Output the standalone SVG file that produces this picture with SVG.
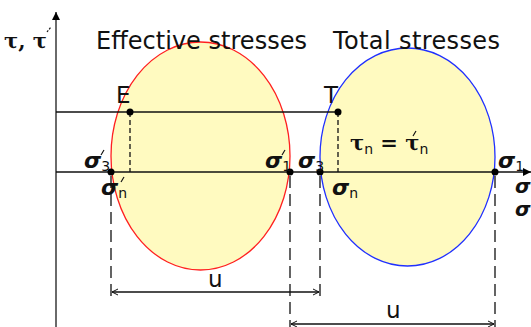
<svg xmlns="http://www.w3.org/2000/svg" width="531" height="327" viewBox="0 0 531 327">
<style>
.ttl{font-family:"DejaVu Sans",sans-serif;font-size:24px;fill:#111}
.lbl{font-family:"DejaVu Sans",sans-serif;font-size:23px;fill:#111}
.sg{font-family:"DejaVu Sans",sans-serif;font-size:22px;font-weight:bold;font-style:italic;fill:#111}
.sg2{font-family:"DejaVu Sans",sans-serif;font-size:20px;font-weight:bold;font-style:italic;fill:#111}
.sub{font-family:"DejaVu Sans",sans-serif;font-size:14px;font-weight:normal;font-style:normal;fill:#111}
.tau{font-family:"DejaVu Serif",serif;font-size:21px;font-weight:bold;fill:#111}
.ln{stroke:#111;stroke-width:1.3;fill:none}
.dash{stroke:#111;stroke-width:1.3;fill:none;stroke-dasharray:12 6}
.dsh2{stroke:#111;stroke-width:1.3;fill:none;stroke-dasharray:5 3}
.pr{stroke:#111;stroke-width:1.2}
.pt{fill:#000}
</style>
<defs>
<marker id="ah" markerWidth="8" markerHeight="8" refX="7" refY="4" orient="auto-start-reverse" markerUnits="userSpaceOnUse">
<polyline points="1,1 7,4 1,7" fill="none" stroke="#111" stroke-width="1"/>
</marker>
<marker id="ax" markerWidth="10" markerHeight="10" refX="8" refY="5" orient="auto" markerUnits="userSpaceOnUse">
<path d="M0,1 L8,5 L0,9 Z" fill="#000"/>
</marker>
</defs>

<g id="circle-effective">
<ellipse cx="200.5" cy="156" rx="89.5" ry="114" fill="#fffac0" stroke="#ff2020" stroke-width="1.3"/>
</g>
<g id="circle-total">
<ellipse cx="407.5" cy="157" rx="87.5" ry="109" fill="#fffac0" stroke="#2030ff" stroke-width="1.3"/>
</g>

<g id="connectors">
<line x1="56" y1="327" x2="56" y2="12" stroke="#6a6a6a" stroke-width="2" marker-end="url(#ax)"/>
<line x1="56" y1="172" x2="531" y2="172" class="ln" marker-end="url(#ax)"/>
<line x1="56" y1="112" x2="338" y2="112" class="ln"/>
<line x1="130" y1="112" x2="130" y2="172" class="dsh2"/>
<line x1="338" y1="112" x2="338" y2="172" class="dsh2"/>
<line x1="111" y1="176" x2="111" y2="297" class="dash"/>
<line x1="290" y1="176" x2="290" y2="327" class="dash"/>
<line x1="320" y1="176" x2="320" y2="297" class="dash"/>
<line x1="495" y1="176" x2="495" y2="327" class="dash"/>
<line x1="112" y1="292" x2="319" y2="292" class="ln" marker-start="url(#ah)" marker-end="url(#ah)"/>
<line x1="291" y1="324" x2="494" y2="324" class="ln" marker-start="url(#ah)" marker-end="url(#ah)"/>
</g>

<g id="points">
<circle cx="130" cy="112" r="3.5" class="pt"/>
<circle cx="338" cy="112" r="3.5" class="pt"/>
<circle cx="111" cy="172" r="3.5" class="pt"/>
<circle cx="290" cy="172" r="3.5" class="pt"/>
<circle cx="320" cy="172" r="3.5" class="pt"/>
<circle cx="495" cy="172" r="3.5" class="pt"/>
</g>

<g id="axis-label">
<text x="4" y="48" class="tau">τ, τ</text>
<line x1="47" y1="32" x2="51" y2="27" stroke="#111" stroke-width="1.2" stroke-dasharray="2 1.5"/>
</g>

<g id="titles">
<text x="96" y="49" class="ttl" textLength="211" lengthAdjust="spacing">Effective stresses</text>
<text x="333" y="49" class="ttl" textLength="167" lengthAdjust="spacing">Total stresses</text>
</g>

<g id="E"><text x="116" y="103" class="lbl">E</text></g>
<g id="T"><text x="324" y="103" class="lbl">T</text></g>

<g id="sigma3p"><text x="84" y="168" class="sg">σ<tspan class="sub" dy="3">3</tspan></text><line x1="101" y1="155" x2="104" y2="150" class="pr"/></g>
<g id="sigmanp"><text x="101" y="195" class="sg">σ<tspan class="sub" dy="3">n</tspan></text><line x1="121" y1="182" x2="124" y2="177" class="pr"/></g>
<g id="sigma1p"><text x="265" y="168" class="sg">σ<tspan class="sub" dy="3">1</tspan></text><line x1="282" y1="155" x2="285" y2="150" class="pr"/></g>
<g id="sigma3"><text x="298" y="168" class="sg">σ<tspan class="sub" dy="3">3</tspan></text></g>
<g id="sigman"><text x="332" y="195" class="sg">σ<tspan class="sub" dy="3">n</tspan></text></g>
<g id="sigma1"><text x="498" y="168" class="sg">σ<tspan class="sub" dy="3">1</tspan></text></g>
<g id="axis-sigma"><text x="515" y="193" class="sg2">σ</text><text x="515" y="216" class="sg2">σ</text></g>

<g id="tau-eq">
<text x="350" y="150" class="tau">τ<tspan class="sub" dy="4">n</tspan><tspan dy="-4"> = τ</tspan><tspan class="sub" dy="4">n</tspan></text>
<line x1="413" y1="136" x2="416" y2="131" class="pr"/>
</g>

<g id="dims">
<text x="208" y="287" class="lbl">u</text>
<text x="386" y="318" class="lbl">u</text>
</g>
</svg>
